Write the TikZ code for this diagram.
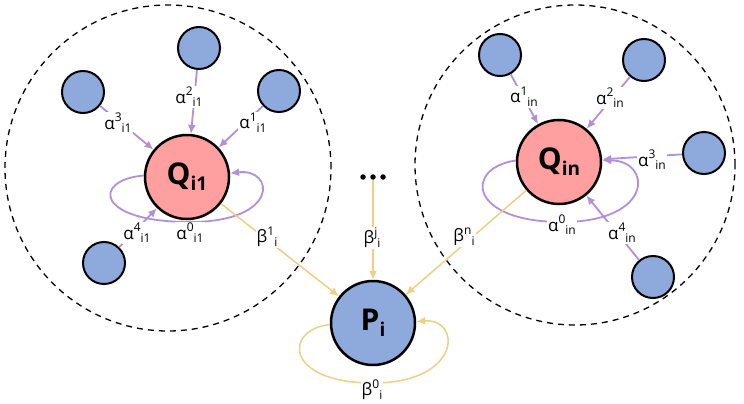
\documentclass[tikz,border=0pt]{standalone}
\usepackage{fontspec}
\setmainfont{Open Sans}
\usetikzlibrary{arrows.meta}
\definecolor{nblue}{HTML}{8EA9DB}
\definecolor{nred}{HTML}{FF9F9F}
\definecolor{apurp}{HTML}{B38FD9}
\definecolor{bgold}{HTML}{EDCF85}
\newcommand\lbl[3]{#1\raisebox{0.42em}{\fontsize{12}{12}\selectfont #2}\raisebox{-0.22em}{\fontsize{12}{12}\selectfont #3}}
\newcommand\mainlbl[2]{\textbf{#1}\raisebox{-0.2em}{\fontsize{19}{19}\selectfont\textbf{#2}}}
\begin{document}
\begin{tikzpicture}[x=1pt,y=-1pt,
 big/.style={circle,draw,line width=2.5pt,minimum size=84pt,inner sep=0pt,font=\fontsize{30}{30}\selectfont},
 qnode/.style={big,fill=nred},
 pnode/.style={big,fill=nblue},
 small/.style={circle,draw,fill=nblue,line width=2pt,minimum size=42pt,inner sep=0pt},
 aarrow/.style={draw=apurp,line width=1.8pt,-{Latex[length=9pt,width=8pt]}},
 barrow/.style={draw=bgold,line width=1.5pt,-{Latex[length=9pt,width=8pt]}},
 lab/.style={fill=white,inner sep=1pt,font=\fontsize{17}{17}\selectfont},
 cluster/.style={circle,draw,line width=1.3pt,dash pattern=on 6pt off 5pt,inner sep=0pt},
 dot/.style={circle,fill=black,inner sep=0pt,minimum size=5.5pt}]
\useasboundingbox (0,0) rectangle (744,404);
% clusters
\node[cluster,minimum size=326pt] (c1) at (168,168) {};
\node[cluster,minimum size=320pt] (c2) at (575,165) {};
% main nodes
\node[qnode] (q1) at (187,177) {\mainlbl{Q}{i1}};
\node[qnode] (q2) at (559,162) {\mainlbl{Q}{in}};
\node[pnode] (p) at (373,323) {\mainlbl{P}{i}};
% left cluster small nodes
\node[small] (l2) at (199,48) {};
\node[small] (l3) at (83,92) {};
\node[small] (l1) at (279,91) {};
\node[small] (l4) at (104,263) {};
% right cluster small nodes
\node[small] (r1) at (500,55) {};
\node[small] (r2) at (644,60) {};
\node[small] (r3) at (704,153) {};
\node[small] (r4) at (653,277) {};
% dots
\node[dot] (d1) at (363,177) {};
\node[dot] (d2) at (373,177) {};
\node[dot] (d3) at (383,177) {};
% alpha edges
\draw[aarrow] (l2) -- (q1);
\draw[aarrow] (l3) -- (q1);
\draw[aarrow] (l1) -- (q1);
\draw[aarrow] (l4) -- (q1);
\draw[aarrow] (r1) -- (q2);
\draw[aarrow] (r2) -- (q2);
\draw[aarrow] (r3) -- (q2);
\draw[aarrow] (r4) -- (q2);
% self loops
\draw[aarrow] (q1.178) .. controls (92,180) and (95,222) .. (190,222) .. controls (280,222) and (275,168) .. (q1.5);
\draw[aarrow] (q2.178) .. controls (464,168) and (468,222) .. (562,222) .. controls (655,222) and (652,160) .. (q2.2);
\draw[barrow] (p.182) .. controls (283,330) and (285,383) .. (373,383) .. controls (462,383) and (462,318) .. (p.2);
% beta edges
\draw[barrow] (q1) -- (p);
\draw[barrow] (q2) -- (p);
\draw[barrow] (d2) -- (p);
% labels
\node[lab] at (189,97) {\lbl{α}{2}{i1}};
\node[lab] at (118,123) {\lbl{α}{3}{i1}};
\node[lab] at (253,123) {\lbl{α}{1}{i1}};
\node[lab] at (137,233) {\lbl{α}{4}{i1}};
\node[lab] at (190,233) {\lbl{α}{0}{i1}};
\node[lab] at (267,237) {\lbl{β}{1}{i}};
\node[lab] at (524,97) {\lbl{α}{1}{in}};
\node[lab] at (610,98) {\lbl{α}{2}{in}};
\node[lab] at (652,160) {\lbl{α}{3}{in}};
\node[lab] at (562,225) {\lbl{α}{0}{in}};
\node[lab] at (622,233) {\lbl{α}{4}{in}};
\node[lab] at (464,237) {\lbl{β}{n}{i}};
\node[lab] at (372,238) {\lbl{β}{j}{i}};
\node[lab] at (372,390) {\lbl{β}{0}{i}};
\end{tikzpicture}
\end{document}
